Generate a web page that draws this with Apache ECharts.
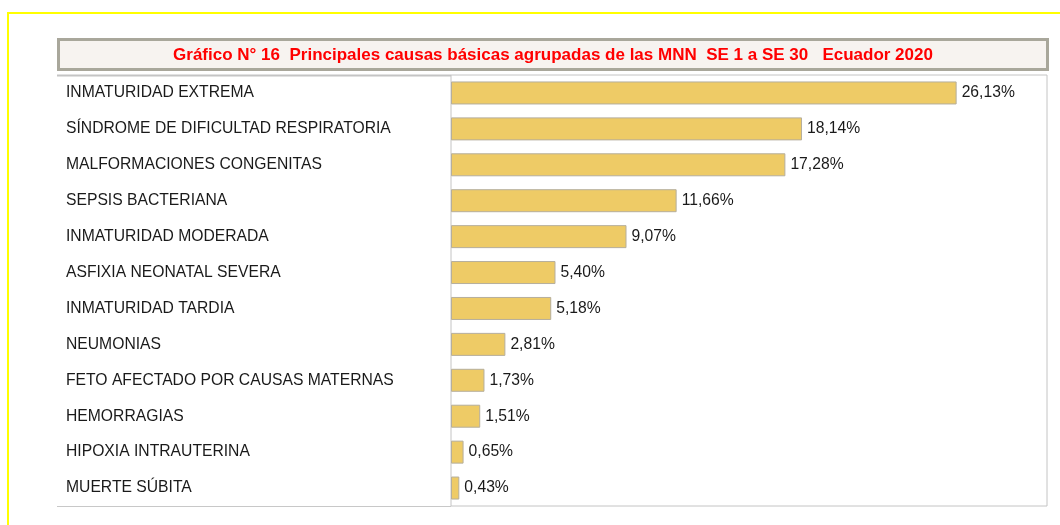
<!DOCTYPE html>
<html>
<head>
<meta charset="utf-8">
<script src="https://cdn.jsdelivr.net/npm/echarts@6/dist/echarts.min.js"></script>
<style>
    html, body { margin: 0; padding: 0; background: #fff; }
    #chart { width: 1060px; height: 525px; }
</style>
</head>
<body>
<div id="chart"></div>
<script>
// datos del grafico
var titleText = 'Gráfico N° 16  Principales causas básicas agrupadas de las MNN  SE 1 a SE 30   Ecuador 2020';
var causes = [
    'INMATURIDAD EXTREMA',
    'SÍNDROME DE DIFICULTAD RESPIRATORIA',
    'MALFORMACIONES CONGENITAS',
    'SEPSIS BACTERIANA',
    'INMATURIDAD MODERADA',
    'ASFIXIA NEONATAL SEVERA',
    'INMATURIDAD TARDIA',
    'NEUMONIAS',
    'FETO AFECTADO POR CAUSAS MATERNAS',
    'HEMORRAGIAS',
    'HIPOXIA INTRAUTERINA',
    'MUERTE SÚBITA'
];
var percents = [26.13, 18.14, 17.28, 11.66, 9.07, 5.40, 5.18, 2.81, 1.73, 1.51, 0.65, 0.43];

var chart = echarts.init(document.getElementById('chart'));

var option = {
    backgroundColor: '#ffffff',
    textStyle: { fontFamily: 'Arial, "Liberation Sans", sans-serif' },
    animation: false,
    graphic: [
        // marco amarillo
        {
            type: 'rect', z: 0,
            shape: { x: 8, y: 13, width: 1100, height: 600 },
            style: { fill: 'none', stroke: '#ffff00', lineWidth: 2 }
        },
        // caja del titulo
        {
            type: 'rect', z: 1,
            shape: { x: 58.5, y: 39.5, width: 989, height: 30 },
            style: { fill: '#f7f3f0', stroke: '#a9a79b', lineWidth: 3 }
        },
        {
            type: 'text', z: 2,
            x: 553, y: 55.5,
            style: {
                text: titleText,
                fill: '#ff0000',
                font: 'bold 17px Arial, "Liberation Sans", sans-serif',
                align: 'center',
                verticalAlign: 'middle'
            }
        },
        // lineas del area de etiquetas
        {
            type: 'line', z: 1,
            shape: { x1: 57, y1: 75.5, x2: 451, y2: 75.5 },
            style: { stroke: '#c4c4c4', lineWidth: 2 }
        },
        {
            type: 'line', z: 1,
            shape: { x1: 57, y1: 506.5, x2: 451, y2: 506.5 },
            style: { stroke: '#c8c8c8', lineWidth: 1 }
        }
    ],
    grid: {
        left: 451,
        right: 13,
        top: 75,
        bottom: 19,
        show: true,
        borderColor: '#c4c4c4',
        borderWidth: 1
    },
    xAxis: {
        type: 'value',
        min: 0,
        max: 30.8,
        show: false
    },
    yAxis: {
        type: 'category',
        data: causes,
        inverse: true,
        axisLine: { show: false },
        axisTick: { show: false },
        axisLabel: {
            align: 'left',
            margin: 385,
            fontSize: 15.7,
            color: '#1a1a1a'
        }
    },
    series: [
        {
            type: 'bar',
            data: percents,
            barWidth: 23,
            itemStyle: {
                color: '#eecb66',
                borderColor: '#b5ae9c',
                borderWidth: 1
            },
            label: {
                show: true,
                position: 'right',
                distance: 5,
                fontSize: 15.7,
                color: '#1a1a1a',
                formatter: function (p) {
                    return p.value.toFixed(2).replace('.', ',') + '%';
                }
            }
        }
    ]
};

chart.setOption(option);
</script>
</body>
</html>
